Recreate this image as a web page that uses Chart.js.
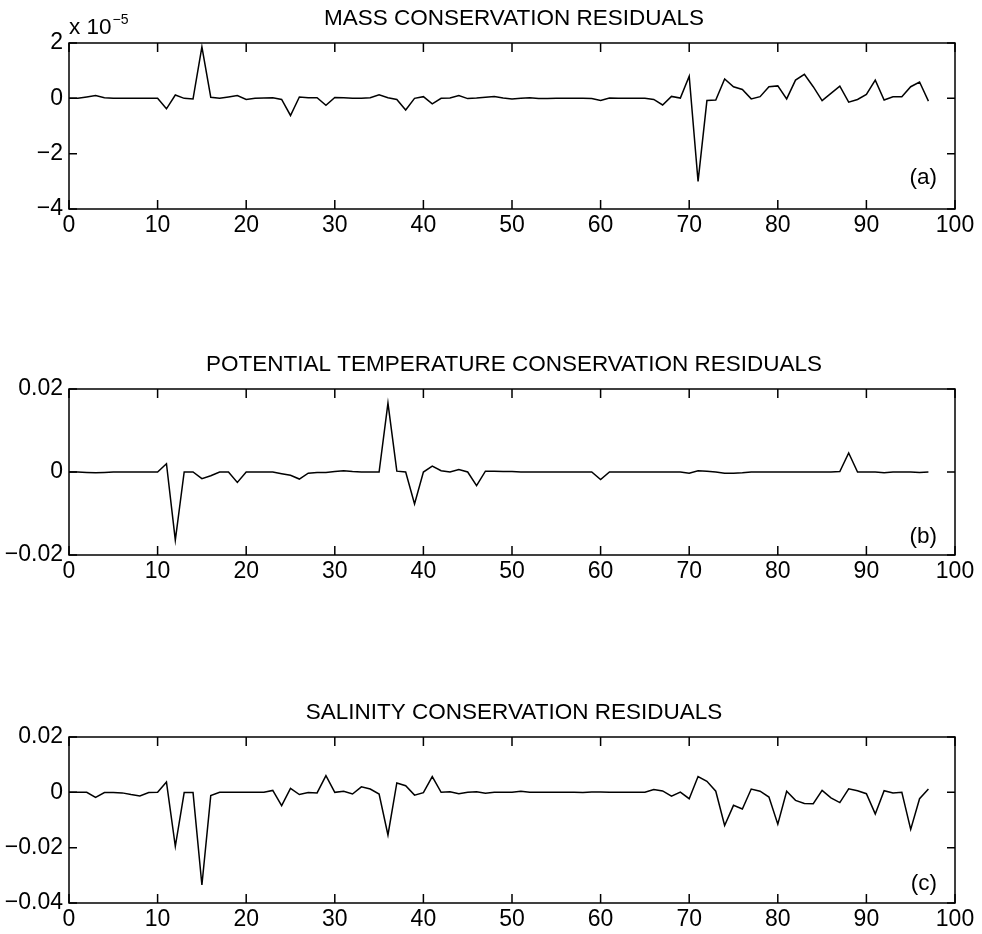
<!DOCTYPE html>
<html lang="en">
<head>
    <meta charset="UTF-8">
    <title>Conservation Residuals</title>
    <script src="https://cdn.jsdelivr.net/npm/chart.js"></script>
    <style>
        body { margin: 0; background: #fff; }
        .panel { position: absolute; left: 0; width: 982px; height: 240px; }
    </style>
</head>
<body>
    <div class="panel" style="top: 0px;"><canvas id="massChart" width="982" height="240"></canvas></div>
    <div class="panel" style="top: 346px;"><canvas id="thetaChart" width="982" height="240"></canvas></div>
    <div class="panel" style="top: 694px;"><canvas id="saltChart" width="982" height="240"></canvas></div>

    <script>
        // Time step index of each residual
        const steps = Array.from({ length: 98 }, (_, i) => i);

        // Mass residuals, in units of 1e-5
        const massResidual = [
            0, 0, 0.05, 0.1, 0.02, 0, 0, 0, 0, 0,
            0, -0.38, 0.12, 0, -0.02, 1.86, 0.04, 0, 0.05, 0.1,
            -0.04, 0, 0.01, 0.02, -0.04, -0.62, 0.05, 0.02, 0.02, -0.25,
            0.03, 0.02, 0, 0, 0.02, 0.13, 0.02, -0.04, -0.42, 0,
            0.06, -0.2, 0, 0.01, 0.1, -0.01, 0.01, 0.04, 0.07, 0.01,
            -0.02, 0, 0.02, -0.01, -0.01, 0, 0, 0, 0, -0.01,
            -0.08, 0.01, 0, 0, 0, 0, -0.04, -0.24, 0.07, 0.01,
            0.8, -3.0, -0.08, -0.06, 0.7, 0.42, 0.32, -0.02, 0.06, 0.42,
            0.45, -0.02, 0.66, 0.87, 0.42, -0.08, 0.18, 0.44, -0.14, -0.04,
            0.14, 0.66, -0.06, 0.06, 0.06, 0.42, 0.59, -0.1
        ];

        // Potential temperature residuals
        const thetaResidual = [
            0, 0, -0.0001, -0.0002, -0.0001, 0, 0, 0, 0, 0,
            0, 0.002, -0.0164, 0, 0, -0.0016, -0.0009, 0, 0, -0.0025,
            0, 0, 0, 0, -0.0004, -0.0008, -0.0017, -0.0003, -0.0001, -0.0001,
            0.0001, 0.0003, 0.0001, 0, 0, 0, 0.0166, 0.0002, 0, -0.0077,
            0, 0.0014, 0.0003, 0, 0.0006, 0, -0.0033, 0.0002, 0.0002, 0.0001,
            0.0001, 0, 0, 0, 0, 0, 0, 0, 0, 0,
            -0.0018, 0, 0, 0, 0, 0, 0, 0, 0, 0,
            -0.0003, 0.0003, 0.0002, 0, -0.0003, -0.0003, -0.0002, 0, 0, 0,
            0, 0, 0, 0, 0, 0, 0, 0.0001, 0.0046, 0,
            0, 0, -0.0002, 0, 0, 0, -0.0001, 0
        ];

        // Salinity residuals
        const saltResidual = [
            0, 0, 0, -0.0018, -0.0001, -0.0001, -0.0002, -0.0008, -0.0013, -0.0001,
            0, 0.0037, -0.0195, -0.0001, -0.0001, -0.0335, -0.0012, 0, 0, 0,
            0, 0, 0, 0.0007, -0.0048, 0.0014, -0.0008, -0.0001, -0.0002, 0.006,
            0, 0.0004, -0.0006, 0.002, 0.0012, -0.0006, -0.0154, 0.0034, 0.0024, -0.001,
            -0.0001, 0.0057, 0, 0.0002, -0.0005, 0, 0.0002, -0.0003, 0, 0,
            0, 0.0004, 0, 0, 0, 0, 0, 0, -0.0001, 0.0001,
            0.0001, 0, 0, 0, 0, 0, 0.001, 0.0005, -0.0014, 0.0001,
            -0.0023, 0.0057, 0.004, 0.0004, -0.012, -0.0047, -0.006, 0.0012, 0.0004, -0.0017,
            -0.0115, 0.0004, -0.0029, -0.004, -0.0041, 0.0007, -0.002, -0.0037, 0.0013, 0.0006,
            -0.0005, -0.0078, 0.0006, -0.0002, 0, -0.0134, -0.0023, 0.0012
        ];

        const xTicksStep = 10;
        const FONT = '"Liberation Sans", Arial, Helvetica, sans-serif';

        Chart.defaults.font.family = FONT;
        Chart.defaults.font.size = 23;
        Chart.defaults.color = '#000';

        // zero prints as "0", negatives get a real minus sign
        function fmtTick(v) {
            if (Math.abs(v) < 1e-12) return '0';
            return String(+v.toFixed(4)).replace('-', '\u2212');
        }

        // Boxed axes with inward ticks on all four sides, plus title and panel tag
        const framePlugin = {
            id: 'frame',
            afterDatasetsDraw(chart, args, opts) {
                const { ctx, chartArea: a, scales: { x, y } } = chart;
                ctx.save();
                ctx.strokeStyle = '#000';
                ctx.lineWidth = 1.5;
                ctx.strokeRect(a.left, a.top, a.width, a.height);

                ctx.beginPath();
                x.ticks.forEach(t => {
                    const px = x.getPixelForValue(t.value);
                    ctx.moveTo(px, a.bottom);
                    ctx.lineTo(px, a.bottom - 9);
                    ctx.moveTo(px, a.top);
                    ctx.lineTo(px, a.top + 9);
                });
                y.ticks.forEach(t => {
                    const py = y.getPixelForValue(t.value);
                    ctx.moveTo(a.left, py);
                    ctx.lineTo(a.left + 8, py);
                    ctx.moveTo(a.right, py);
                    ctx.lineTo(a.right - 8, py);
                });
                ctx.stroke();

                ctx.fillStyle = '#000';
                ctx.font = '22.5px ' + FONT;
                ctx.textBaseline = 'alphabetic';
                ctx.textAlign = 'center';
                ctx.fillText(opts.title, (a.left + a.right) / 2 + 2, a.top - 18);

                ctx.textAlign = 'right';
                ctx.fillText(opts.tag, a.right - 18, a.bottom - opts.tagLift);

                if (opts.exponent) {
                    ctx.textAlign = 'left';
                    ctx.fillText('x 10', a.left, a.top - 9);
                    const w = ctx.measureText('x 10').width;
                    ctx.font = '14px ' + FONT;
                    ctx.fillText(opts.exponent, a.left + w + 1, a.top - 19);
                }
                ctx.restore();
            }
        };

        function makePanel(id, values, yMin, yMax, yStep, frame) {
            const ctx = document.getElementById(id).getContext('2d');
            return new Chart(ctx, {
                type: 'line',
                data: {
                    datasets: [{
                        data: values.map((v, i) => ({ x: steps[i], y: v })),
                        borderColor: '#000',
                        borderWidth: 1.5,
                        pointRadius: 0,
                        tension: 0,
                        fill: false
                    }]
                },
                options: {
                    responsive: false,
                    animation: false,
                    layout: { padding: { top: 43, left: 0, right: 27, bottom: 0 } },
                    scales: {
                        x: {
                            type: 'linear',
                            min: 0,
                            max: 100,
                            grid: { display: false, drawTicks: false },
                            border: { display: false },
                            ticks: { stepSize: xTicksStep, autoSkip: false, maxRotation: 0, padding: 3 },
                            afterFit(scale) { scale.height = 31; }
                        },
                        y: {
                            min: yMin,
                            max: yMax,
                            grid: { display: false, drawTicks: false },
                            border: { display: false },
                            ticks: { stepSize: yStep, autoSkip: false, padding: 6, callback: fmtTick },
                            afterFit(scale) { scale.width = 69; }
                        }
                    },
                    plugins: {
                        legend: { display: false },
                        tooltip: { enabled: false },
                        frame: frame
                    }
                },
                plugins: [framePlugin]
            });
        }

        makePanel('massChart', massResidual, -4, 2, 2, {
            title: 'MASS CONSERVATION RESIDUALS', tag: '(a)', tagLift: 25, exponent: '\u22125'
        });
        makePanel('thetaChart', thetaResidual, -0.02, 0.02, 0.02, {
            title: 'POTENTIAL TEMPERATURE CONSERVATION RESIDUALS', tag: '(b)', tagLift: 12
        });
        makePanel('saltChart', saltResidual, -0.04, 0.02, 0.02, {
            title: 'SALINITY CONSERVATION RESIDUALS', tag: '(c)', tagLift: 13
        });
    </script>
</body>
</html>
